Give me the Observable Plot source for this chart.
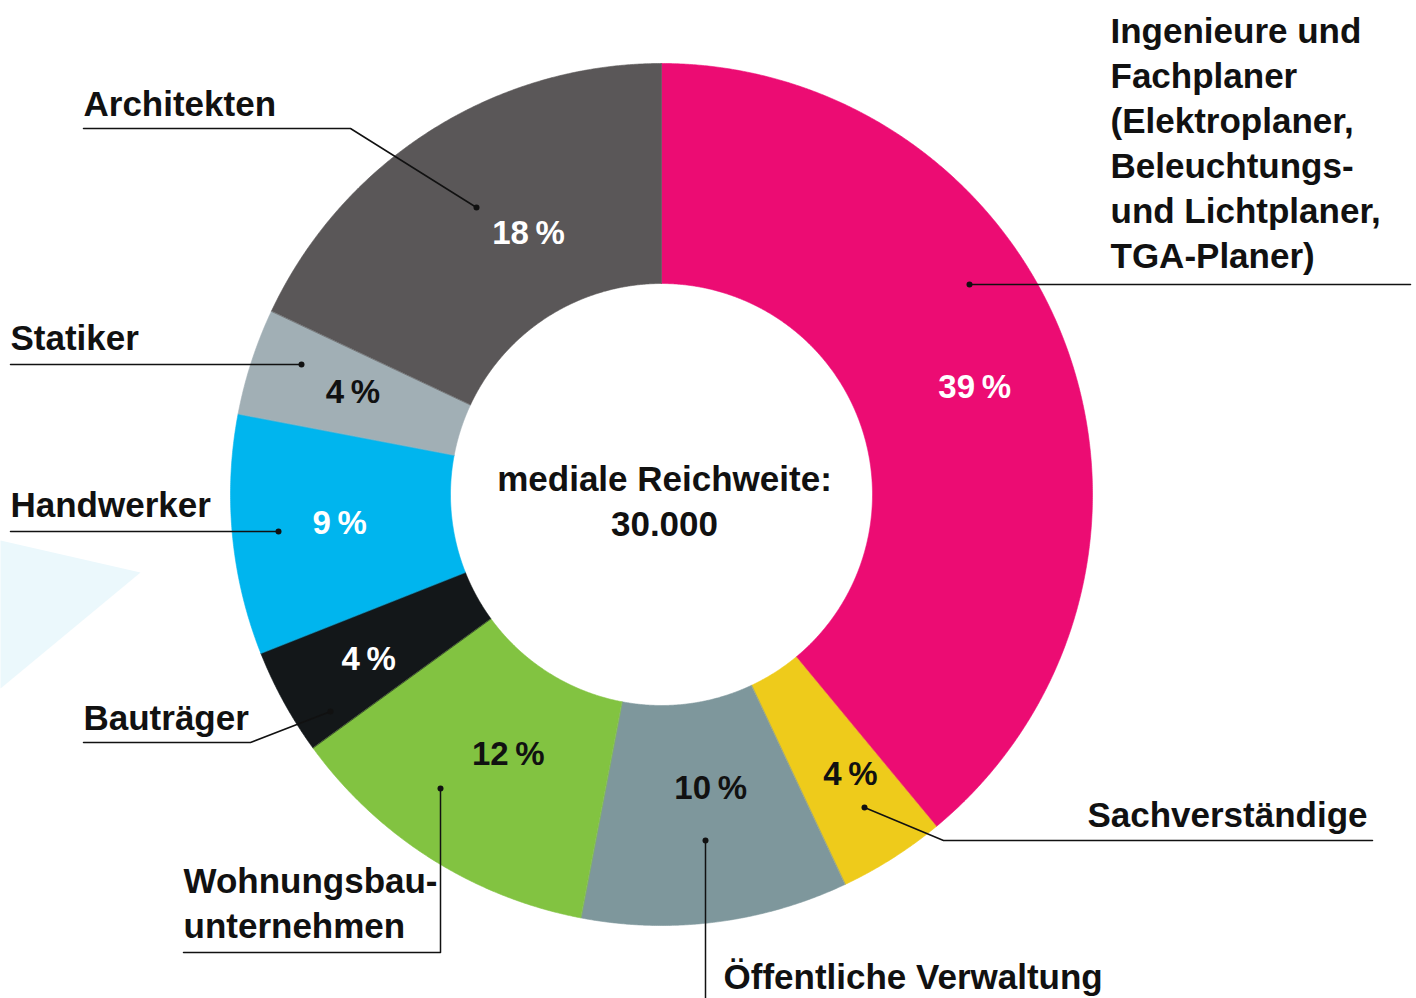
<!DOCTYPE html>
<html><head><meta charset="utf-8">
<script src="https://cdn.jsdelivr.net/npm/d3@7"></script>
<script src="https://cdn.jsdelivr.net/npm/@observablehq/plot@0.6"></script>
<style>html,body{margin:0;padding:0;background:#fff;overflow:hidden}svg{display:block}</style>
</head><body><div id="chart"></div>
<script>
// ---- data ----
const categories = ["Ingenieure und Fachplaner", "Sachverständige", "Öffentliche Verwaltung", "Wohnungsbauunternehmen", "Bauträger", "Handwerker", "Statiker", "Architekten"];
const shares = [39, 4, 10, 12, 4, 9, 4, 18];
const labelTexts = [
  "Ingenieure und\nFachplaner\n(Elektroplaner,\nBeleuchtungs-\nund Lichtplaner,\nTGA-Planer)",
  "Sachverständige",
  "Öffentliche Verwaltung",
  "Wohnungsbau-\nunternehmen",
  "Bauträger",
  "Handwerker",
  "Statiker",
  "Architekten"
];
const centerLines = ["mediale Reichweite:", "30.000"];

// ---- styles ----
const sliceColors = ["#ec0c73", "#eecb1b", "#7e979c", "#82c341", "#131719", "#00b5ee", "#a1afb5", "#5a5758"];
const pctColors = ["#ffffff", "#111111", "#111111", "#111111", "#ffffff", "#ffffff", "#111111", "#ffffff"];

// ---- layout (pixels / degrees) ----
const W = 1416, H = 998, CX = 661, CY = 494, R_OUT = 431, R_IN = 211;
const FONT = 35, LINE_GAP = 45;
// label: [x, first baseline, anchor]
const labelLayout = [
  [1110, 42, "start"],
  [1367, 826, "end"],
  [723, 988, "start"],
  [183, 892, "start"],
  [83, 729, "start"],
  [10, 516, "start"],
  [10, 349, "start"],
  [83, 115, "start"]
];
// percent label placement: [angle in degrees clockwise from top, radius]
const pctPlace = [[71.1, 331], [146, 338], [170.5, 298], [210.5, 302], [240.6, 336], [264.9, 323], [288.3, 325], [333, 293]];
// leader polylines, first point carries the dot
const leaderLayout = [
  [[969, 284], [1410, 284]],
  [[864, 807], [943, 840], [1372, 840]],
  [[705, 840], [705, 998]],
  [[440, 788], [440, 952], [183, 952]],
  [[330, 711], [250, 742], [83, 742]],
  [[278, 531], [10, 531]],
  [[301, 364], [10, 364]],
  [[476, 207], [350, 128], [83, 128]]
];
const bgShape = [[0, 540], [140, 572], [0, 688]];

// ---- derived ----
const arcs = d3.pie().sort(null).value(d => d)(shares);
const pt = (a, r) => ({x: CX + r * Math.sin(a), y: CY - r * Math.cos(a)});
const slicePts = [];
arcs.forEach((a, i) => {
  const n = Math.max(8, Math.ceil((a.endAngle - a.startAngle) / (Math.PI / 720)));
  for (let k = 0; k <= n; k++) slicePts.push({cat: categories[i], ...pt(a.startAngle + (a.endAngle - a.startAngle) * k / n, R_OUT)});
  for (let k = n; k >= 0; k--) slicePts.push({cat: categories[i], ...pt(a.startAngle + (a.endAngle - a.startAngle) * k / n, R_IN)});
});
const pctData = shares.map((v, i) => ({
  ...pt(pctPlace[i][0] * Math.PI / 180, pctPlace[i][1]),
  text: `${v}\u2009%`,
  color: pctColors[i]
}));
const labelRows = [];
labelTexts.forEach((t, i) => {
  t.split("\n").forEach((line, j) => labelRows.push({
    text: line, x: labelLayout[i][0], y: labelLayout[i][1] + j * LINE_GAP, anchor: labelLayout[i][2]
  }));
});
const leaderPts = leaderLayout.flatMap((pts, i) => pts.map(([x, y]) => ({id: i, x, y})));
const leaderDots = leaderLayout.map(pts => ({x: pts[0][0], y: pts[0][1]}));
const centerRows = centerLines.map((t, j) => ({text: t, x: CX + 3, y: 490 + j * LINE_GAP}));
const bgPts = bgShape.map(([x, y]) => ({x, y}));

const textBase = {x: "x", y: "y", text: "text", fontSize: FONT, fontWeight: 700, lineAnchor: "bottom", fill: "#111"};

const chart = Plot.plot({
  width: W, height: H, margin: 0,
  x: {domain: [0, W], range: [0, W], axis: null},
  y: {domain: [0, H], range: [0, H], axis: null},
  color: {domain: categories, range: sliceColors},
  style: {fontFamily: "'Liberation Sans', Arial, sans-serif", background: "#ffffff", overflow: "visible"},
  marks: [
    Plot.line(bgPts, {x: "x", y: "y", fill: "#ebf8fc", stroke: "none", curve: "linear-closed"}),
    Plot.line(slicePts, {x: "x", y: "y", z: "cat", fill: "cat", stroke: "cat", strokeWidth: 0.6, curve: "linear-closed"}),
    Plot.line(leaderPts, {x: "x", y: "y", z: "id", stroke: "#111", strokeWidth: 1.5}),
    Plot.dot(leaderDots, {x: "x", y: "y", r: 3, fill: "#111", stroke: "none"}),
    Plot.text(pctData, {x: "x", y: "y", text: "text", fill: "color", fontSize: 33, fontWeight: 700, lineAnchor: "middle", textAnchor: "middle"}),
    Plot.text(labelRows.filter(d => d.anchor === "start"), {...textBase, textAnchor: "start"}),
    Plot.text(labelRows.filter(d => d.anchor === "end"), {...textBase, textAnchor: "end"}),
    Plot.text(centerRows, {...textBase, textAnchor: "middle"})
  ]
});
document.getElementById("chart").append(chart);
</script>
</body></html>
